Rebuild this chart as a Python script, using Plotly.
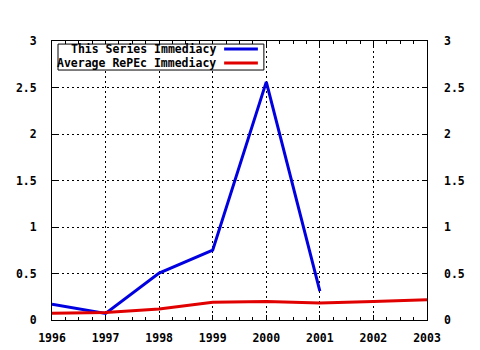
import plotly.graph_objects as go

years = [1996, 1997, 1998, 1999, 2000, 2001, 2002, 2003]
series_years = [1996, 1997, 1998, 1999, 2000, 2001]
series_vals = [0.17, 0.07, 0.505, 0.75, 2.56, 0.31]
avg_vals = [0.072, 0.08, 0.118, 0.19, 0.2, 0.183, 0.2, 0.218]
series_names = ["This Series Immediacy", "Average RePEc Immediacy"]
colors = ["#0000e0", "#e00000"]
yticks = [0, 0.5, 1, 1.5, 2, 2.5, 3]
ytick_text = ["0", "0.5", "1", "1.5", "2", "2.5", "3"]

TICKFONT = dict(family="DejaVu Sans Mono", size=11.5, color="black", weight="bold")

fig = go.Figure()
fig.add_trace(go.Scatter(x=series_years, y=series_vals, mode="lines",
                         line=dict(color=colors[0], width=3), showlegend=False))
fig.add_trace(go.Scatter(x=years, y=avg_vals, mode="lines",
                         line=dict(color=colors[1], width=3), showlegend=False))
# invisible trace for right axis
fig.add_trace(go.Scatter(x=[years[0]], y=[0], yaxis="y2", mode="markers",
                         marker=dict(opacity=0), showlegend=False, hoverinfo="skip"))

fig.update_layout(
    width=480, height=350,
    margin=dict(l=52, r=53, t=41, b=30),
    paper_bgcolor="white", plot_bgcolor="white",
    xaxis=dict(range=[1996, 2003], tickvals=years, ticktext=[str(y) for y in years],
               showgrid=True, gridcolor="black", griddash="2px,3px", gridwidth=1,
               showline=True, linecolor="black", linewidth=1, mirror="ticks",
               ticks="inside", ticklen=5, tickcolor="black",
               minor=dict(dtick=0.25, ticks="inside", ticklen=3, tickcolor="black", showgrid=False),
               zeroline=False, tickfont=TICKFONT, ticklabelstandoff=7, automargin=False),
    yaxis=dict(range=[0, 3], tickvals=yticks, ticktext=ytick_text,
               showgrid=True, gridcolor="black", griddash="2px,3px", gridwidth=1,
               showline=True, linecolor="black", linewidth=1, mirror="ticks",
               ticks="inside", ticklen=5, tickcolor="black", zeroline=False,
               tickfont=TICKFONT, ticklabelstandoff=12, automargin=False),
    yaxis2=dict(range=[0, 3], tickvals=yticks, ticktext=ytick_text, overlaying="y", side="right",
                showgrid=False, ticks="", showline=False, zeroline=False,
                tickfont=TICKFONT, ticklabelstandoff=16, automargin=False),
)

# custom gnuplot-style legend
fig.add_shape(type="rect", xref="paper", yref="paper", x0=0.016, x1=0.565, y0=0.896, y1=0.989,
              line=dict(color="black", width=1), fillcolor="white", layer="above")
rows = [0.971, 0.921]
for name, col, yy in zip(series_names, colors, rows):
    fig.add_annotation(xref="paper", yref="paper", x=0.443, y=yy, text=name, showarrow=False,
                       xanchor="right", yanchor="middle",
                       font=dict(family="DejaVu Sans Mono", size=11.5, color="black", weight="bold"))
    fig.add_shape(type="line", xref="paper", yref="paper", x0=0.459, x1=0.549, y0=yy, y1=yy,
                  line=dict(color=col, width=3), layer="above")

fig.write_html("out.html")
